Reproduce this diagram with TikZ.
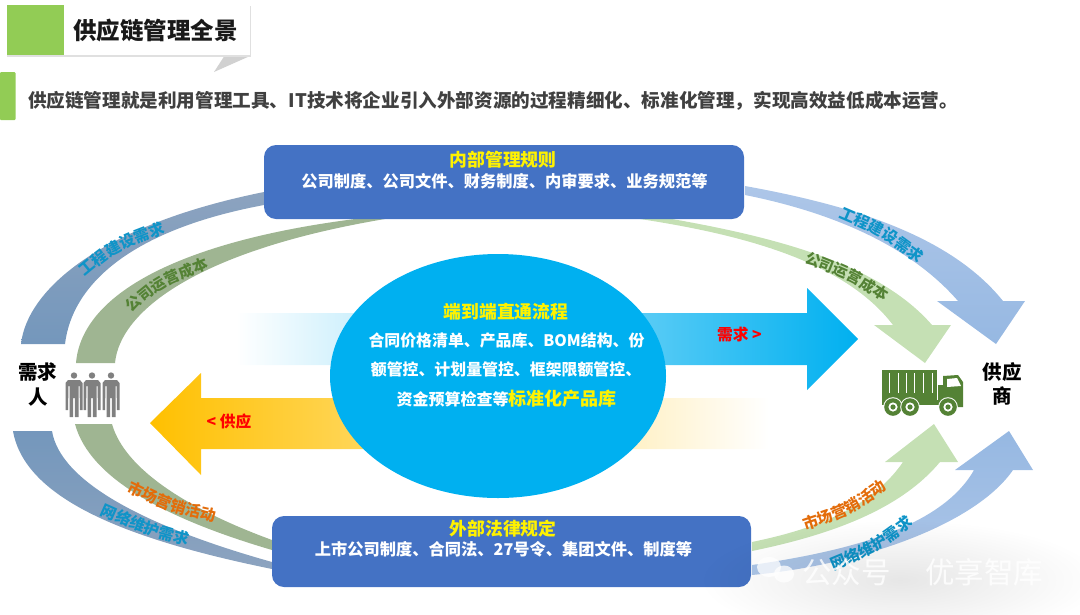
\documentclass[tikz,border=0pt]{standalone}
\usepackage{fontspec}
\setmainfont{Noto Sans CJK SC}
\usepackage{tikz}
\usetikzlibrary{shapes.geometric,decorations.text,fadings}
\definecolor{barGreen}{HTML}{92CC55}
\definecolor{boxBlue}{HTML}{4472C4}
\definecolor{skyBlue}{HTML}{00B0F0}
\definecolor{truckGreen}{HTML}{548235}
\definecolor{labelBlue}{HTML}{0F94C8}
\definecolor{labelOrange}{HTML}{E36C0A}
\definecolor{arcTop}{HTML}{8CA3BF}
\definecolor{arcBottom}{HTML}{7497BC}
\definecolor{arcMoss}{HTML}{9FB592}
\definecolor{headTop}{HTML}{ADC6E8}
\definecolor{headBottom}{HTML}{96B8E2}
\definecolor{headMint}{HTML}{C5E0B4}
\definecolor{amber}{HTML}{FFC000}
\newcommand{\fs}[1]{\bfseries\fontsize{#1}{#1}\selectfont}
\tikzfading[name=softglow,inner color=transparent!20,outer color=transparent!100]
\tikzset{
  arcblue/.style={top color=arcTop,bottom color=arcBottom,draw=none},
  arcgreen/.style={fill=arcMoss,draw=none},
  headblue/.style={top color=headTop,bottom color=headBottom,draw=none},
  headgreen/.style={fill=headMint,draw=none},
  bluebox/.style={rectangle,rounded corners=12pt,fill=boxBlue,inner sep=0pt},
  boxtext/.style={font=\fs{16.25},text=white,inner sep=0pt},
  headtext/.style={font=\fs{17.8},text=yellow,inner sep=0pt},
  sidetext/.style={font=\fs{19.5},text=black,inner sep=0pt},
  flowtext/.style={font=\fs{15.7},text=red,inner sep=0pt},
  marktext/.style={font=\fontsize{29.5}{29.5}\selectfont,text=white,inner sep=0pt,opacity=0.8},
}
\begin{document}
\begin{tikzpicture}[x=1pt,y=-1pt]
\useasboundingbox (0,0) rectangle (1080,614);
% header
\fill[black!18] (250,56) -- (214,72) -- (225,55) -- cycle;
\node (titleshadow) [minimum width=244pt,minimum height=51pt,inner sep=0pt,fill=black!12] at (129,31) {};
\node (titlebox) [minimum width=243pt,minimum height=50pt,inner sep=0pt,fill=white] at (128.5,30) {};
\node (titlebar) [minimum width=57pt,minimum height=50pt,inner sep=0pt,fill=barGreen] at (35.5,30) {};
\node (titletext) [font=\fs{23.5},text=black!90,anchor=west,inner sep=0pt] at (73,31) {供应链管理全景};
\node (introbar) [minimum width=15.5pt,minimum height=48pt,inner sep=0pt,rounded corners=1pt,fill=barGreen] at (7.75,96) {};
\node (introtext) [font=\fs{18.6},text=black!75,anchor=west,inner sep=0pt] at (28,101) {供应链管理就是利用管理工具、IT技术将企业引入外部资源的过程精细化、标准化管理，实现高效益低成本运营。};
% flows behind the ellipse
\shade[left color=white,middle color=skyBlue!38!white,right color=skyBlue] (236,313) -- (807,313) -- (807,288) -- (858,339) -- (807,390) -- (807,365) -- (236,365) -- cycle;
\shade[left color=amber,right color=white] (769,398) -- (201,398) -- (201,373) -- (150,423) -- (201,475) -- (201,449) -- (769,449) -- cycle;
\node (centre) [ellipse,minimum width=336pt,minimum height=244pt,inner sep=0pt,fill=skyBlue] at (498,376) {};
% left side bands
\shade[arcblue] (21,344) .. controls (27,290) and (100,225) .. (264,192) -- (264,205) .. controls (130,230) and (72,285) .. (65,344) -- cycle;
\fill[arcgreen] (76,363) .. controls (82,290) and (190,240) .. (355,219) -- (385,219) .. controls (200,250) and (120,310) .. (115,363) -- cycle;
\shade[arcblue,top color=arcBottom,bottom color=arcTop] (13,431) .. controls (25,500) and (130,540) .. (272,569) -- (272,562) .. controls (140,525) and (60,480) .. (52,431) -- cycle;
\fill[arcgreen] (75,424) .. controls (90,480) and (170,520) .. (272,550) -- (272,540) .. controls (190,510) and (125,470) .. (112,424) -- cycle;
% right side arrows
\shade[headblue] (745,186) .. controls (850,205) and (950,235) .. (1003,301) -- (1025,301) -- (996,344) -- (937,301) -- (958,301) .. controls (905,240) and (820,210) .. (745,195) -- cycle;
\fill[headgreen] (672,219) .. controls (780,238) and (880,265) .. (932,325) -- (951,325) -- (925,363) -- (874,325) -- (893,325) .. controls (845,262) and (745,235) .. (640,219) -- cycle;
\fill[headgreen] (752,542) .. controls (810,530) and (870,510) .. (903,462) -- (885,462) -- (934,424) -- (958,462) -- (940,462) .. controls (900,510) and (830,535) .. (752,551) -- cycle;
\shade[headblue,top color=headBottom,bottom color=headTop] (752,565) .. controls (840,552) and (940,530) .. (974,470) -- (955,470) -- (1009,431) -- (1033,470) -- (1013,470) .. controls (975,525) and (860,565) .. (752,575) -- cycle;
% boxes
\node (rulesbox) [bluebox,minimum width=480pt,minimum height=74pt] at (504,182) {};
\node (lawbox) [bluebox,minimum width=479pt,minimum height=71pt] at (511.5,551.5) {};
\node (ruleshead) [headtext] at (503,160) {内部管理规则};
\node (rulestext) [boxtext] at (504.5,181) {公司制度、公司文件、财务制度、内审要求、业务规范等};
\node (lawhead) [headtext] at (503,529) {外部法律规定};
\node (lawtext) [boxtext] at (503.5,549) {上市公司制度、合同法、27号令、集团文件、制度等};
% ellipse text
\node (centrehead) [headtext] at (506,312) {端到端直通流程};
\node (centrea) [boxtext,font=\fs{15.9}] at (506.5,341) {合同价格清单、产品库、BOM结构、份};
\node (centreb) [boxtext,font=\fs{15.9}] at (506,369) {额管控、计划量管控、框架限额管控、};
\node (centrec) [boxtext,font=\fs{16}] at (506.5,399) {资金预算检查等{\color{yellow}\fs{18}标准化产品库}};
\node (demand) [flowtext] at (739.5,334) {需求 >};
\node (supply) [flowtext] at (229,421) {< 供应};
% band labels
\path[decorate,decoration={text along path,text={|\fs{15.5}\color{labelBlue}|工程建设需求}}] (85,277) .. controls (115,252) .. (168,232);
\path[decorate,decoration={text along path,text={|\fs{15}\color{truckGreen}|公司运营成本}}] (132,313) .. controls (160,288) .. (210,268);
\path[decorate,decoration={text along path,text={|\fs{15.5}\color{labelOrange}|市场营销活动}}] (127,491) .. controls (170,512) .. (215,522);
\path[decorate,decoration={text along path,text={|\fs{15.5}\color{labelBlue}|网络维护需求}}] (100,514) .. controls (145,534) .. (191,546);
\path[decorate,decoration={text along path,text={|\fs{15.5}\color{labelBlue}|工程建设需求}}] (838,217) .. controls (880,235) .. (919,264);
\path[decorate,decoration={text along path,text={|\fs{15}\color{truckGreen}|公司运营成本}}] (804,262) .. controls (850,280) .. (888,304);
\path[decorate,decoration={text along path,text={|\fs{15.5}\color{labelOrange}|市场营销活动}}] (805,530) .. controls (850,515) .. (889,488);
\path[decorate,decoration={text along path,text={|\fs{15.5}\color{labelBlue}|网络维护需求}}] (833,570) .. controls (877,552) .. (916,523);
% people
\foreach \x in {74,92,111}{
  \begin{scope}[shift={(\x,0)}]
    \fill[black!50] (0,375.5) circle (3.2);
    \fill[black!50] (-6,380) -- (6,380) -- (8.5,383) -- (8.5,410) -- (6,410) -- (5.5,386) -- (4.5,386) -- (4.5,417) -- (1,417) -- (0.8,398) -- (-0.8,398) -- (-1,417) -- (-4.5,417) -- (-4.5,386) -- (-5.5,386) -- (-6,410) -- (-8.5,410) -- (-8.5,383) -- cycle;
  \end{scope}
}
\node (buyera) [sidetext] at (38,372) {需求};
\node (buyerb) [sidetext] at (38,397) {人};
% truck
\fill[truckGreen] (882,370) rectangle (937,400);
\foreach \x in {889,898,906,914,923,932}
  \draw[white,line width=0.8pt] (\x,373) -- (\x,393);
\fill[truckGreen] (882,400) rectangle (963,404.5);
\fill[truckGreen] (943,376) -- (958,375) -- (963,382) -- (963,407) -- (943,407) -- cycle;
\fill[truckGreen] (938,385) rectangle (943,400);
\fill[white] (947,379) -- (957,378) -- (961,386) -- (947,387) -- cycle;
\foreach \x in {893,910,948}{
  \fill[white] (\x,407) circle (9.8);
  \fill[truckGreen] (\x,407) circle (8.8);
  \fill[white] (\x,407) circle (4.6);
  \fill[truckGreen] (\x,407) circle (2.6);
}
\node (sellera) [sidetext] at (1002,372) {供应};
\node (sellerb) [sidetext] at (1002,396) {商};
% watermark
\fill[black,opacity=0.12,path fading=softglow] (700,520) rectangle (1100,640);
\fill[white,opacity=0.75] (769,567) ellipse (12 and 10);
\fill[white,opacity=0.75] (784,574) ellipse (10 and 8.5);
\node (markone) [marktext,anchor=west] at (802,572) {公众号};
\node (marktwo) [marktext,anchor=west] at (925,572) {优享智库};
\end{tikzpicture}
\end{document}
